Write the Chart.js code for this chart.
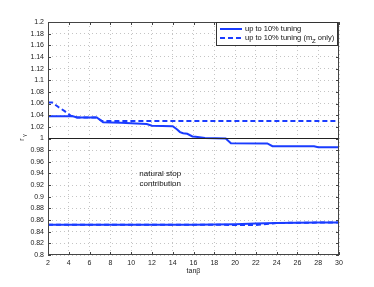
<!DOCTYPE html>
<html>
<head>
<meta charset="utf-8">
<script src="https://cdn.jsdelivr.net/npm/chart.js@4.4.0/dist/chart.umd.min.js"></script>
<style>
  html, body { margin: 0; padding: 0; background: #fff; }
  #wrap { width: 374px; height: 287px; }
</style>
</head>
<body>
<div id="wrap"><canvas id="c" width="374" height="287"></canvas></div>
<script>
// ---- dados ----
const upperSolidX = [2, 4.4, 4.8, 6.7, 7.3, 9, 11.5, 12, 14, 14.4, 14.7, 15, 15.4, 15.9, 16.2, 17.1, 19.1, 19.6, 23.1, 23.6, 27.6, 28, 30];
const upperSolidY = [1.038, 1.038, 1.036, 1.036, 1.028, 1.027, 1.025, 1.022, 1.021, 1.016, 1.011, 1.009, 1.008, 1.0035, 1.003, 1.0007, 1.0, 0.992, 0.9915, 0.9867, 0.9865, 0.985, 0.985];

const upperDashX = [2, 2.4, 3, 3.6, 4.2, 4.4, 4.8, 6.7, 7.2, 30];
const upperDashY = [1.062, 1.062, 1.054, 1.047, 1.039, 1.038, 1.036, 1.036, 1.030, 1.030];

const lowerSolidX = [2, 16, 18, 20, 22, 24, 26, 28, 30];
const lowerSolidY = [0.852, 0.852, 0.8525, 0.853, 0.854, 0.855, 0.8555, 0.856, 0.856];

const lowerDashX = [2, 16, 22, 24, 30];
const lowerDashY = [0.852, 0.852, 0.8515, 0.855, 0.856];

const refX = [2, 30];
const refY = [1, 1];

const legendLabels = ['up to 10% tuning', 'up to 10% tuning (m', 'Z', ' only)'];
const annotText = ['natural stop', 'contribution'];

const AZUL = '#1a3cff';
const FONTE = '"Liberation Sans", Arial, sans-serif';
const pts = (xs, ys) => xs.map((x, i) => ({ x: x, y: ys[i] }));

// caixa em volta do gráfico, tiques internos, textos extras
const extras = {
  id: 'extras',
  afterDatasetsDraw(chart) {
    const { ctx, chartArea: a, scales } = chart;
    const xs = scales.x, ys = scales.y;
    ctx.save();
    ctx.strokeStyle = '#444';
    ctx.lineWidth = 1;
    ctx.strokeRect(a.left + 0.5, a.top + 0.5, a.right - a.left - 1, a.bottom - a.top - 1);

    // tiques para dentro
    ctx.beginPath();
    for (let v = 2; v <= 30; v += 2) {
      const px = Math.round(xs.getPixelForValue(v)) + 0.5;
      ctx.moveTo(px, a.bottom); ctx.lineTo(px, a.bottom - 3);
      ctx.moveTo(px, a.top); ctx.lineTo(px, a.top + 3);
    }
    for (let i = 0; i <= 20; i++) {
      const py = Math.round(ys.getPixelForValue(0.8 + i * 0.02)) + 0.5;
      ctx.moveTo(a.left, py); ctx.lineTo(a.left + 3, py);
      ctx.moveTo(a.right, py); ctx.lineTo(a.right - 3, py);
    }
    ctx.stroke();

    // anotação
    ctx.fillStyle = '#111';
    ctx.font = '8px ' + FONTE;
    ctx.textAlign = 'center';
    ctx.textBaseline = 'middle';
    const ax = xs.getPixelForValue(12.8);
    ctx.fillText(annotText[0], ax, ys.getPixelForValue(0.94));
    ctx.fillText(annotText[1], ax, ys.getPixelForValue(0.923));

    // legenda
    const lx = 216, ly = 22, lw = 121, lh = 23;
    ctx.fillStyle = '#fff';
    ctx.fillRect(lx, ly, lw, lh);
    ctx.strokeStyle = '#333';
    ctx.strokeRect(lx + 0.5, ly + 0.5, lw, lh);
    ctx.lineWidth = 2;
    ctx.strokeStyle = AZUL;
    ctx.beginPath(); ctx.moveTo(lx + 4, ly + 7); ctx.lineTo(lx + 26, ly + 7); ctx.stroke();
    ctx.setLineDash([5, 3]);
    ctx.beginPath(); ctx.moveTo(lx + 4, ly + 16); ctx.lineTo(lx + 26, ly + 16); ctx.stroke();
    ctx.setLineDash([]);
    ctx.fillStyle = '#111';
    ctx.textAlign = 'left';
    ctx.font = '7.5px ' + FONTE;
    ctx.fillText(legendLabels[0], lx + 29, ly + 7);
    let tx = lx + 29;
    ctx.fillText(legendLabels[1], tx, ly + 16);
    tx += ctx.measureText(legendLabels[1]).width;
    ctx.font = '6px ' + FONTE;
    ctx.fillText(legendLabels[2], tx, ly + 19);
    tx += ctx.measureText(legendLabels[2]).width;
    ctx.font = '7.5px ' + FONTE;
    ctx.fillText(legendLabels[3], tx, ly + 16);

    // rótulo do eixo y: r_γ
    ctx.translate(22, ys.getPixelForValue(1));
    ctx.rotate(-Math.PI / 2);
    ctx.font = '7px ' + FONTE;
    ctx.textAlign = 'center';
    ctx.fillText('r', -1, 0);
    ctx.font = '5px ' + FONTE;
    ctx.fillText('γ', 3, 3);
    ctx.restore();
  }
};

const ds = (label, xs, ys, color, width, dash) => ({
  label, data: pts(xs, ys), borderColor: color, borderWidth: width,
  borderDash: dash, pointRadius: 0, fill: false, tension: 0
});

new Chart(document.getElementById('c'), {
  type: 'line',
  data: {
    datasets: [
      ds('ref', refX, refY, '#222', 1, []),
      ds('up to 10% tuning', upperSolidX, upperSolidY, AZUL, 2, []),
      ds('up to 10% tuning (mZ only)', upperDashX, upperDashY, AZUL, 2, [5, 3]),
      ds('low dash', lowerDashX, lowerDashY, AZUL, 2, [5, 3]),
      ds('low solid', lowerSolidX, lowerSolidY, AZUL, 2, []),
    ],
  },
  options: {
    responsive: false,
    animation: false,
    layout: { padding: { left: 0, top: 22, right: 35, bottom: 12 } },
    plugins: { legend: { display: false }, tooltip: { enabled: false } },
    scales: {
      x: {
        type: 'linear', min: 2, max: 30,
        grid: { color: '#c4c4c4', tickLength: 0, drawTicks: false },
        border: { display: false, dash: [1, 3] },
        ticks: { stepSize: 2, padding: 4, color: '#222', maxRotation: 0,
                 font: { size: 7, family: FONTE } },
        title: { display: true, text: 'tanβ', color: '#222', padding: { top: 1, bottom: 0 },
                 font: { size: 7, family: FONTE } },
        afterFit: s => { s.height = 20; },
      },
      y: {
        min: 0.8, max: 1.2,
        grid: { color: '#c4c4c4', tickLength: 0, drawTicks: false },
        border: { display: false, dash: [1, 3] },
        ticks: { stepSize: 0.02, padding: 4, color: '#222',
                 font: { size: 7, family: FONTE },
                 callback: v => String(Math.round(v * 100) / 100) },
        afterFit: s => { s.width = 48; },
      },
    },
  },
  plugins: [extras],
});
</script>
</body>
</html>
